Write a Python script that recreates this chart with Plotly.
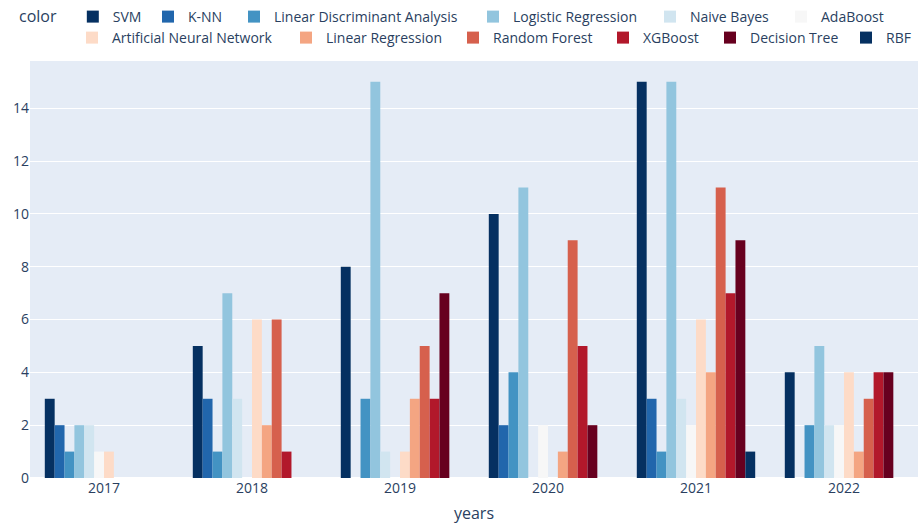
import plotly.graph_objects as go

years = ["2017", "2018", "2019", "2020", "2021", "2022"]
models = ["SVM", "K-NN", "Linear Discriminant Analysis", "Logistic Regression",
          "Naive Bayes", "AdaBoost", "Artificial Neural Network", "Linear Regression",
          "Random Forest", "XGBoost", "Decision Tree", "RBF"]

svm = [3, 5, 8, 10, 15, 4]
knn = [2, 3, 0, 2, 3, 0]
lda = [1, 1, 3, 4, 1, 2]
logreg = [2, 7, 15, 11, 15, 5]
naive_bayes = [2, 3, 1, 0, 3, 2]
adaboost = [1, 0, 0, 2, 2, 2]
ann = [1, 6, 1, 0, 6, 4]
linreg = [0, 2, 3, 1, 4, 1]
random_forest = [0, 6, 5, 9, 11, 3]
xgboost = [0, 1, 3, 5, 7, 4]
decision_tree = [0, 0, 7, 2, 9, 4]
rbf = [0, 0, 0, 0, 1, 0]

series = [svm, knn, lda, logreg, naive_bayes, adaboost, ann, linreg,
          random_forest, xgboost, decision_tree, rbf]

colors = ["rgb(5,48,97)", "rgb(33,102,172)", "rgb(67,147,195)", "rgb(146,197,222)",
          "rgb(209,229,240)", "rgb(247,247,247)", "rgb(253,219,199)", "rgb(244,165,130)",
          "rgb(214,96,77)", "rgb(178,24,43)", "rgb(103,0,31)"]

# legend entry text start (px) and row for each model, as in the reference layout
legend_text_x = [112, 188, 274, 513, 690, 821, 112, 326, 493, 643, 750, 886]
legend_row = [0, 0, 0, 0, 0, 0, 1, 1, 1, 1, 1, 1]

W, H = 918, 524
fig = go.Figure()
legends = {}
for i, (name, vals) in enumerate(zip(models, series)):
    key = "legend" if i == 0 else f"legend{i + 1}"
    fig.add_trace(go.Bar(
        x=years, y=vals, name=name,
        marker=dict(color=colors[i % len(colors)], line=dict(width=0)),
        legend=key, showlegend=True,
    ))
    top_y = 1 if legend_row[i] == 0 else 22
    cfg = dict(
        orientation="h", xref="container", yref="container",
        x=(legend_text_x[i] - 40) / W, y=1 - top_y / H,
        xanchor="left", yanchor="top",
        font=dict(size=14), bgcolor="rgba(0,0,0,0)",
    )
    if i == 0:
        cfg["x"] = 17 / W
        cfg["title"] = dict(text="color&nbsp;&nbsp;", font=dict(size=16))
    legends[key] = cfg

fig.update_layout(
    width=W, height=H,
    template="plotly",
    showlegend=True,
    barmode="group",
    bargap=0.2, bargroupgap=0,
    margin=dict(l=30, r=0, t=61, b=46),
    font=dict(family="Open Sans, verdana, arial, sans-serif", size=14),
    xaxis=dict(type="category", automargin=False,
               title=dict(text="years", font=dict(size=16), standoff=17)),
    yaxis=dict(dtick=2, automargin=False, title=None),
    **legends,
)

fig.write_html("out.html", config={"displayModeBar": False},
               post_script="document.body.style.margin='0';")
